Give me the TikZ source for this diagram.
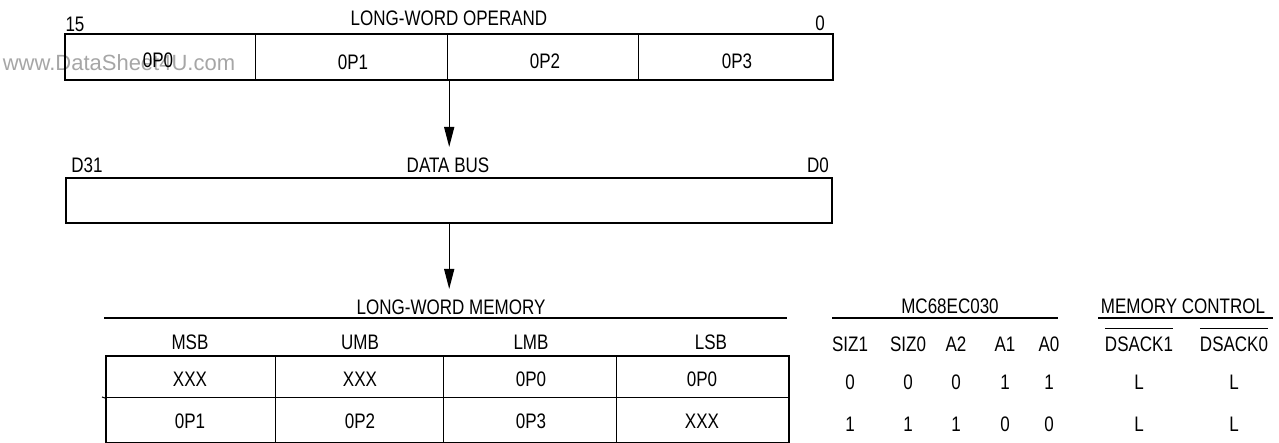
\documentclass[tikz,border=0pt]{standalone}
\usepackage{fontspec}
\setmainfont{Liberation Sans}[FakeStretch=0.81]
\newfontfamily\wmfont{Liberation Sans}
\usetikzlibrary{arrows.meta}
\tikzset{
  lbl/.style={inner sep=0pt, font=\fontsize{21}{25}\selectfont},
  cell/.style={draw, line width=1pt, minimum height=#1, inner sep=0pt, anchor=north west},
  frame/.style={draw, line width=2.4pt, inner sep=0pt, anchor=north west},
  rule/.style={line width=1.1pt},
  flow/.style={line width=1.4pt, -{Triangle[length=20pt,width=10pt]}},
}
\begin{document}
\begin{tikzpicture}[x=1pt,y=-1pt]
\useasboundingbox (0,0) rectangle (1279,443);
% watermark
\node[inner sep=0pt, text=black!35, font=\wmfont\fontsize{22}{26}\selectfont] (wm) at (119,63) {www.DataSheet4U.com};
% ---- long-word operand ----
\node[lbl] (t15) at (75,24) {15};
\node[lbl] (tlwo) at (449,18) {LONG-WORD OPERAND};
\node[lbl] (t0) at (820,23) {0};
\node[cell=46pt, minimum width=191pt] (op0) at (64,33) {};
\node[cell=46pt, minimum width=192pt] (op1) at (255,33) {};
\node[cell=46pt, minimum width=191pt] (op2) at (447,33) {};
\node[cell=46pt, minimum width=194pt] (op3) at (638,33) {};
\node[frame, minimum width=768pt, minimum height=46pt] (opbox) at (64,33) {};
\node[lbl] at (158,60) {0P0};
\node[lbl] at (353,62) {0P1};
\node[lbl] at (545,61) {0P2};
\node[lbl] at (737,61) {0P3};
\coordinate (a1end) at (448,147);
\draw[flow] (opbox.south) -- (opbox.south |- a1end);
% ---- data bus ----
\node[lbl] (d31) at (87,165) {D31};
\node[lbl] (dbus) at (448,165) {DATA BUS};
\node[lbl] (d0) at (818,165) {D0};
\node[frame, minimum width=766pt, minimum height=45pt] (bus) at (65,177) {};
\coordinate (a2end) at (448,289);
\draw[flow] (bus.south) -- (bus.south |- a2end);
% ---- long-word memory ----
\node[lbl] (tlwm) at (451,307) {LONG-WORD MEMORY};
\coordinate (m1) at (104,318);
\coordinate (m2) at (787,318);
\draw[rule] (m1) -- (m2);
\node[lbl] (hmsb) at (190,342) {MSB};
\node[lbl] (humb) at (360,342) {UMB};
\node[lbl] (hlmb) at (531,342) {LMB};
\node[lbl] (hlsb) at (711,342) {LSB};
\foreach \i/\x/\w in {0/105/170,1/275/168,2/443/173,3/616/172}{
  \node[cell=42pt, minimum width=\w pt] (ra\i) at (\x,355) {};
  \node[cell=45pt, minimum width=\w pt] (rb\i) at (\x,397) {};
}
\coordinate (ml) at (102,397);
\draw[rule] (ml) -- (ra0.south west);
\node[frame, minimum width=683pt, minimum height=87pt] (mem) at (105,355) {};
\node[lbl] at (190,379) {XXX};
\node[lbl] at (360,379) {XXX};
\node[lbl] at (531,379) {0P0};
\node[lbl] at (702,379) {0P0};
\node[lbl] at (190,421) {0P1};
\node[lbl] at (360,421) {0P2};
\node[lbl] at (531,421) {0P3};
\node[lbl] at (702,421) {XXX};
% ---- MC68EC030 ----
\node[lbl] (tmc) at (950,306) {MC68EC030};
\coordinate (c1) at (832,318);
\coordinate (c2) at (1058,318);
\draw[rule] (c1) -- (c2);
\foreach \n/\x/\h/\a/\b in {s1/850/SIZ1/0/1, s0/908/SIZ0/0/1, a2/956/A2/0/1, a1/1005/A1/1/0, a0/1049/A0/1/0}{
  \node[lbl] (h\n) at (\x,344) {\h};
  \node[lbl] (v\n) at (\x,382) {\a};
  \node[lbl] (w\n) at (\x,424) {\b};
}
% ---- memory control ----
\node[lbl] (tmctl) at (1183,306) {MEMORY CONTROL};
\coordinate (k1) at (1098,318);
\coordinate (k2) at (1273,318);
\draw[rule] (k1) -- (k2);
\node[lbl] (ds1) at (1139,344) {DSACK1};
\node[lbl] (ds0) at (1234,344) {DSACK0};
\draw[rule] ([yshift=8pt]ds1.north west) -- ([yshift=8pt]ds1.north east);
\draw[rule] ([yshift=8pt]ds0.north west) -- ([yshift=8pt]ds0.north east);
\node[lbl] (l1a) at (1139,382) {L};
\node[lbl] (l0a) at (1234,382) {L};
\node[lbl] (l1b) at (1139,424) {L};
\node[lbl] (l0b) at (1234,424) {L};
\end{tikzpicture}
\end{document}
